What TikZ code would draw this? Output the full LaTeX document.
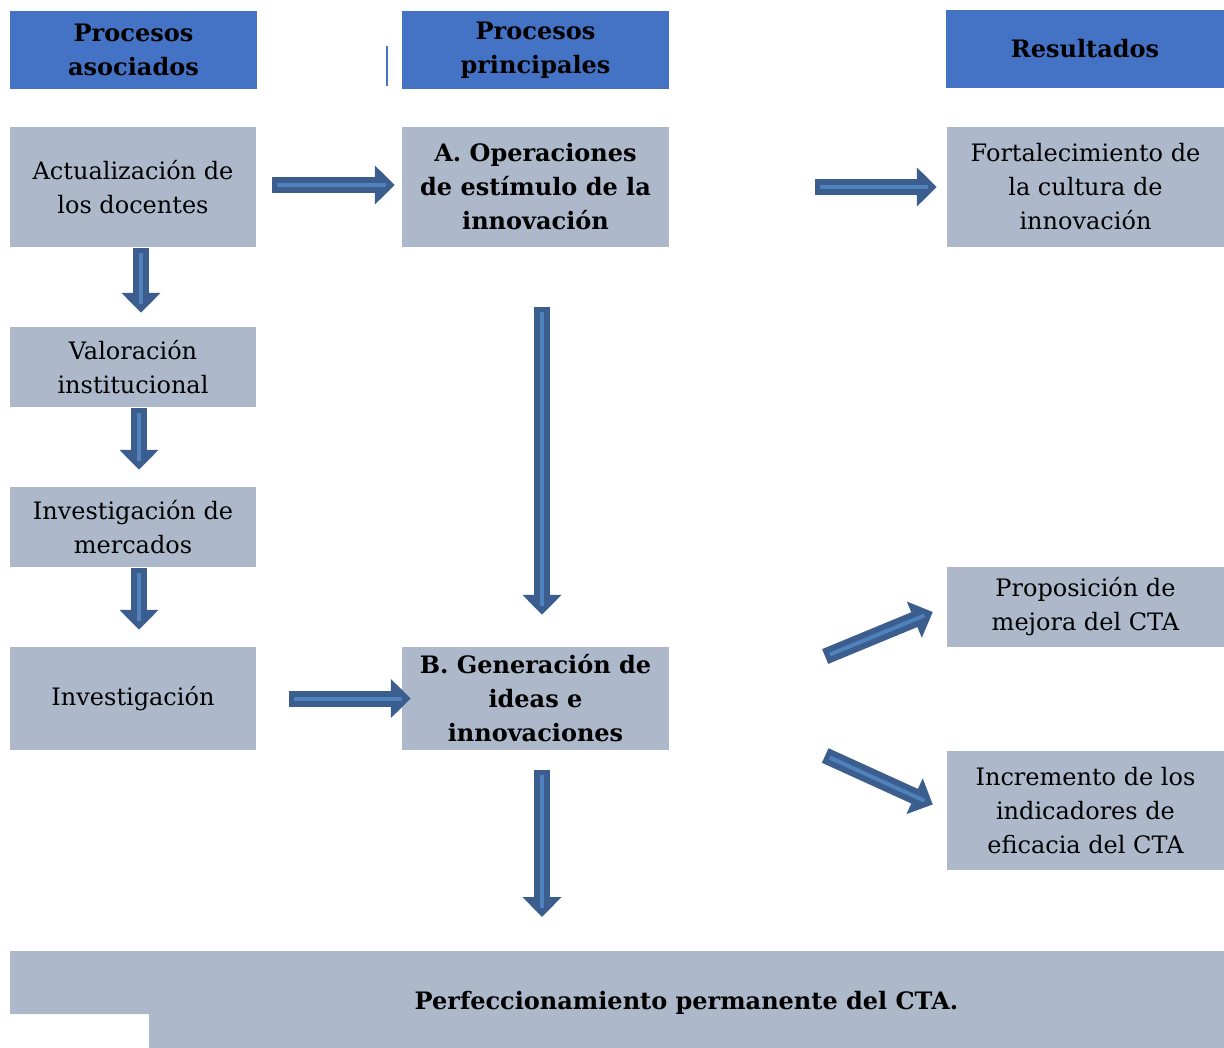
\documentclass[tikz,border=0pt]{standalone}
\usepackage{fontspec}
\setmainfont{DejaVu Serif}
\usepackage{xcolor}
\usepackage{tikz}
\usetikzlibrary{positioning,calc,arrows.meta}

\definecolor{cabecera}{HTML}{4472C4}
\definecolor{caja}{HTML}{ADB9CA}
\definecolor{flechaborde}{HTML}{3B5E8F}
\definecolor{flecharelleno}{HTML}{4F81BD}

\newcommand{\flecha}[2]{%
  \draw[flechaout] #1 -- #2;
  \draw[flechain] #1 -- #2;}

\begin{document}
\fontsize{24}{34}\selectfont
\begin{tikzpicture}[x=1pt,y=-1pt,
  titulo/.style={fill=cabecera,align=center,font=\bfseries,minimum height=78pt,inner sep=0pt},
  caja/.style={fill=caja,align=center,inner sep=0pt},
  flechaout/.style={draw=flechaborde,line width=16pt,-{Triangle[width=38pt,length=20pt]}},
  flechain/.style={draw=flecharelleno,line width=4pt,shorten <=5pt,shorten >=9pt}]
  \useasboundingbox (0,0) rectangle (1224,1048);
  %\draw [help lines, step=50] (0,0) grid (1224,1048);
  \node[titulo, minimum width=247pt] (h1) at (133.5,50) {Procesos\\asociados};
  \node[titulo, minimum width=267pt] (h2) at (535.5,50) {Procesos\\principales};
  \node[titulo, minimum width=278pt] (h3) at (1085,49) {Resultados};
  \draw[cabecera, line width=2pt] (386.5,46) -- (386.5,86);
  \node[caja, minimum width=246pt, minimum height=120pt] (l1) at (133,187) {Actualización de\\los docentes};
  \node[caja, minimum width=246pt, minimum height=80pt] (l2) at (133,367) {Valoración\\institucional};
  \node[caja, minimum width=246pt, minimum height=80pt] (l3) at (133,527) {Investigación de\\mercados};
  \node[caja, minimum width=246pt, minimum height=103pt] (l4) at (133,698.5) {Investigación};
  \node[caja, font=\bfseries, minimum width=267pt, minimum height=120pt] (m1) at (535.5,187) {A. Operaciones\\de estímulo de la\\innovación};
  \node[caja, font=\bfseries, minimum width=267pt, minimum height=103pt] (m2) at (535.5,698.5) {B. Generación de\\ideas e\\innovaciones};
  \node[caja, minimum width=277pt, minimum height=120pt] (r1) at (1085.5,187) {Fortalecimiento de\\la cultura de\\innovación};
  \node[caja, minimum width=277pt, minimum height=80pt] (r2) at (1085.5,607) {Proposición de\\mejora del CTA};
  \node[caja, minimum width=277pt, minimum height=119pt] (r3) at (1085.5,810.5) {Incremento de los\\indicadores de\\eficacia del CTA};
  \fill[caja] (10,951) -- (1224,951) -- (1224,1048) -- (149,1048) -- (149,1014) -- (10,1014) -- cycle;
  \node[font=\bfseries] (perf) at (686.5,1003) {Perfeccionamiento permanente del CTA.};
  \coordinate (fin) at (542,917);
  \flecha{($(l1.east)+(16,-2)$)}{($(m1.west)+(-7,-2)$)}
  \flecha{($(m1.east)+(146,0)$)}{($(r1.west)+(-10,0)$)}
  \flecha{($(l1.south)+(8,1)$)}{($(l2.north)+(8,-14)$)}
  \flecha{($(l2.south)+(6,1)$)}{($(l3.north)+(6,-17)$)}
  \flecha{($(l3.south)+(6,1)$)}{($(l4.north)+(6,-17)$)}
  \flecha{($(m1.south)+(6.5,60)$)}{($(m2.north)+(6.5,-32)$)}
  \flecha{($(l4.east)+(33,0)$)}{($(m2.west)+(9,0)$)}
  \flecha{($(m2.south)+(6.5,20)$)}{(fin)}
  \flecha{($(m2.east)+(156,-42)$)}{($(r2.west)+(-14,5)$)}
  \flecha{($(m2.east)+(156,57)$)}{($(r3.west)+(-14,-6)$)}
\end{tikzpicture}
\end{document}
